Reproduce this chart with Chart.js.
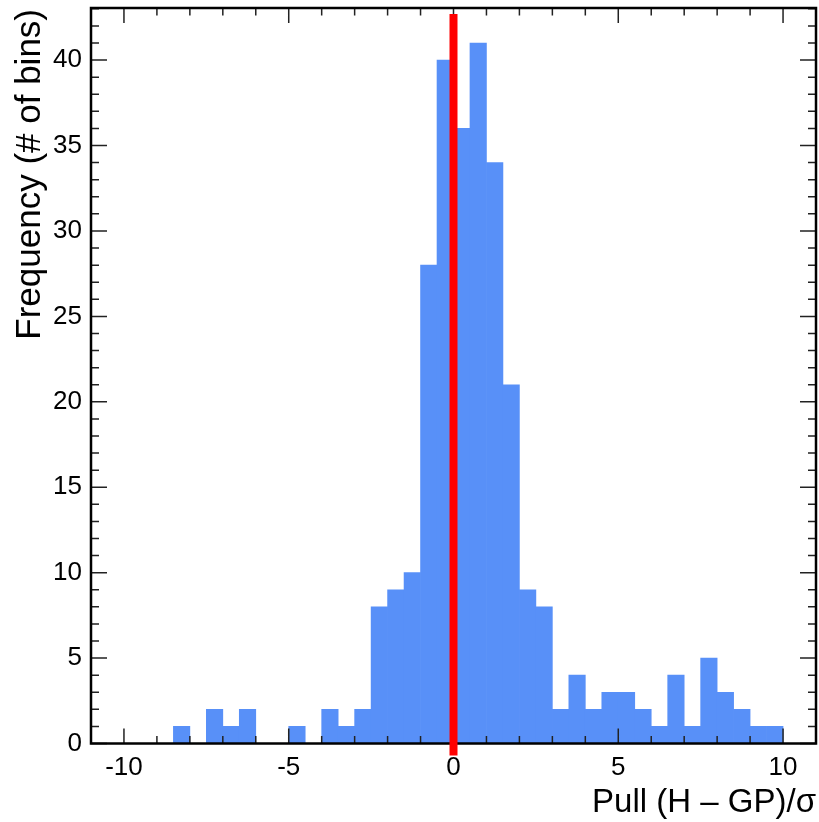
<!DOCTYPE html>
<html>
<head>
<meta charset="utf-8">
<script src="https://cdn.jsdelivr.net/npm/chart.js@4"></script>
<style>
  html, body { margin: 0; padding: 0; background: #ffffff; }
  #wrap { width: 819px; height: 822px; }
</style>
</head>
<body>
<div id="wrap"><canvas id="pull-hist" width="819" height="822"></canvas></div>
<script>
// histogram bins (width 0.5), centres and counts
const binCenters = [
  -10.75, -10.25, -9.75, -9.25, -8.75, -8.25, -7.75, -7.25, -6.75, -6.25, -5.75,
  -5.25, -4.75, -4.25, -3.75, -3.25, -2.75, -2.25, -1.75, -1.25, -0.75, -0.25,
  0.25, 0.75, 1.25, 1.75, 2.25, 2.75, 3.25, 3.75, 4.25, 4.75, 5.25, 5.75,
  6.25, 6.75, 7.25, 7.75, 8.25, 8.75, 9.25, 9.75, 10.25, 10.75
];
const binCounts = [
  0, 0, 0, 0, 0, 1, 0, 2, 1, 2, 0,
  0, 1, 0, 2, 1, 2, 8, 9, 10, 28, 40,
  36, 41, 34, 21, 9, 8, 2, 4, 2, 3, 3, 2,
  1, 4, 1, 5, 3, 2, 1, 1, 0, 0
];
const xTickLabels = [-10, -5, 0, 5, 10];
const yTickLabels = [0, 5, 10, 15, 20, 25, 30, 35, 40];
const xRange = [-11, 11];
const yRange = [0, 43.05];
const markerX = 0;
const markerSpan = [-0.7, 42.7];

const xTitle = "Pull (H \u2013 GP)/\u03c3";
const yTitle = "Frequency (# of bins)";
const FONT = "'Liberation Sans', Arial, Helvetica, sans-serif";

// frame + inward ticks on all four sides, ROOT style
const frameTicks = {
  id: "frameTicks",
  afterDatasetDraw(chart, args) {
    if (args.index !== 1) return;
    const ctx = chart.ctx;
    const a = chart.chartArea;
    const xs = chart.scales.x;
    const ys = chart.scales.y;
    ctx.save();
    ctx.strokeStyle = "#222";
    ctx.lineWidth = 1.5;
    ctx.beginPath();
    for (let v = Math.ceil(xs.min); v <= xs.max; v++) {
      const px = xs.getPixelForValue(v);
      const len = v % 5 === 0 ? 15 : 7.5;
      ctx.moveTo(px, a.bottom);
      ctx.lineTo(px, a.bottom - len);
      ctx.moveTo(px, a.top);
      ctx.lineTo(px, a.top + len);
    }
    for (let v = 0; v <= ys.max; v++) {
      const py = ys.getPixelForValue(v);
      const len = v % 5 === 0 ? 16 : 8;
      ctx.moveTo(a.left, py);
      ctx.lineTo(a.left + len, py);
      ctx.moveTo(a.right, py);
      ctx.lineTo(a.right - len, py);
    }
    ctx.stroke();
    ctx.strokeStyle = "#000";
    ctx.lineWidth = 2.5;
    ctx.strokeRect(a.left, a.top, a.right - a.left, a.bottom - a.top);
    ctx.restore();
  },
  afterDraw(chart) {
    const ctx = chart.ctx;
    const a = chart.chartArea;
    ctx.save();
    ctx.fillStyle = "#000";
    ctx.textAlign = "right";
    ctx.textBaseline = "alphabetic";
    ctx.font = "33px " + FONT;
    ctx.fillText(xTitle, a.right, 812);
    ctx.font = "35px " + FONT;
    ctx.translate(40, a.top + 1);
    ctx.rotate(-Math.PI / 2);
    ctx.fillText(yTitle, 0, 0);
    ctx.restore();
  }
};

const ctx = document.getElementById("pull-hist").getContext("2d");
const chart = new Chart(ctx, {
  data: {
    datasets: [
      {
        type: "line",
        data: markerSpan.map((y) => ({ x: markerX, y: y })),
        borderColor: "#ff0000",
        borderWidth: 8,
        pointRadius: 0,
        clip: false,
        order: 1,
      },
      {
        type: "bar",
        data: binCenters.map((c, i) => ({ x: c, y: binCounts[i] })),
        backgroundColor: "#5890f8",
        borderWidth: 0,
        barPercentage: 1,
        categoryPercentage: 1,
        order: 2,
      },
    ],
  },
  options: {
    responsive: false,
    animation: false,
    layout: { padding: { top: 8, right: 3, left: 0, bottom: 0 } },
    plugins: {
      legend: { display: false },
      tooltip: { enabled: false },
    },
    scales: {
      x: {
        type: "linear",
        offset: false,
        min: xRange[0],
        max: xRange[1],
        grid: { display: false, drawTicks: false, offset: false },
        border: { display: false },
        afterBuildTicks: (s) => {
          s.ticks = xTickLabels.map((v) => ({ value: v }));
        },
        afterFit: (s) => {
          s.height = 78.5;
          s.paddingLeft = 0;
          s.paddingRight = 0;
        },
        ticks: {
          padding: 9,
          color: "#000",
          font: { family: FONT, size: 26 },
          maxRotation: 0,
        },
      },
      y: {
        type: "linear",
        min: yRange[0],
        max: yRange[1],
        grid: { display: false, drawTicks: false },
        border: { display: false },
        afterBuildTicks: (s) => {
          s.ticks = yTickLabels.map((v) => ({ value: v }));
        },
        afterFit: (s) => {
          s.width = 91;
          s.paddingTop = 0;
          s.paddingBottom = 0;
        },
        ticks: {
          padding: 9,
          color: "#000",
          font: { family: FONT, size: 26 },
        },
      },
    },
  },
  plugins: [frameTicks],
});
</script>
</body>
</html>
